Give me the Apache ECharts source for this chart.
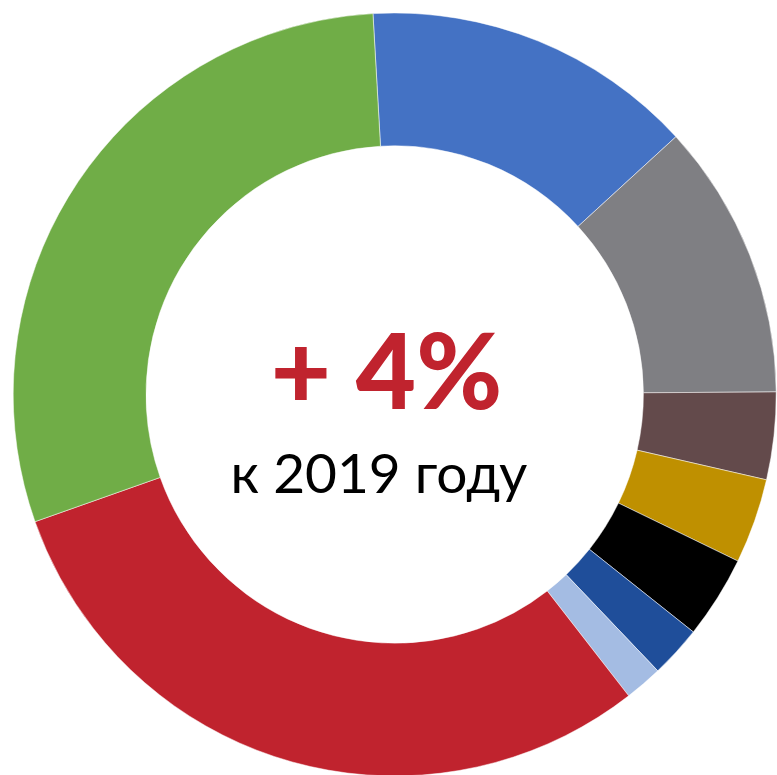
<!DOCTYPE html>
<html>
<head>
<meta charset="utf-8">
<script src="https://cdn.jsdelivr.net/npm/echarts@6/dist/echarts.min.js"></script>
<style>
html,body{margin:0;padding:0;background:#fff;}
#chart{width:777px;height:775px;}
</style>
</head>
<body>
<div id="chart"></div>
<script>
var categories = ['A', 'B', 'C', 'D', 'E', 'F', 'G', 'H', 'I'];
var values = [14.1, 11.7, 3.7, 3.6, 3.5, 2.2, 1.6, 30.1, 29.5];
var colors = ['#4472C4', '#7F7F83', '#634A4B', '#BF9000', '#000000', '#1F4E9A', '#A4BCE3', '#C0232E', '#70AD47'];
var centerMain = '+ 4%';
var centerSub = 'к 2019 году';

var chart = echarts.init(document.getElementById('chart'));
chart.setOption({
  animation: false,
  series: [{
    type: 'pie',
    center: [394.7, 394.5],
    radius: [248.7, 381.5],
    startAngle: 93.27,
    clockwise: true,
    label: {show: false},
    labelLine: {show: false},
    itemStyle: {borderColor: '#ffffff', borderWidth: 0.5},
    emphasis: {disabled: true},
    data: categories.map(function (c, i) {
      return {name: c, value: values[i], itemStyle: {color: colors[i]}};
    })
  }],
  graphic: [
    {
      type: 'text', x: 386.5, y: 375,
      style: {text: centerMain, fill: '#C0232E', font: '900 104px Lato', align: 'center', verticalAlign: 'middle'}
    },
    {
      type: 'text', x: 379, y: 475,
      style: {text: centerSub, fill: '#000000', font: '55px Lato', align: 'center', verticalAlign: 'middle'}
    }
  ]
});
</script>
</body>
</html>
